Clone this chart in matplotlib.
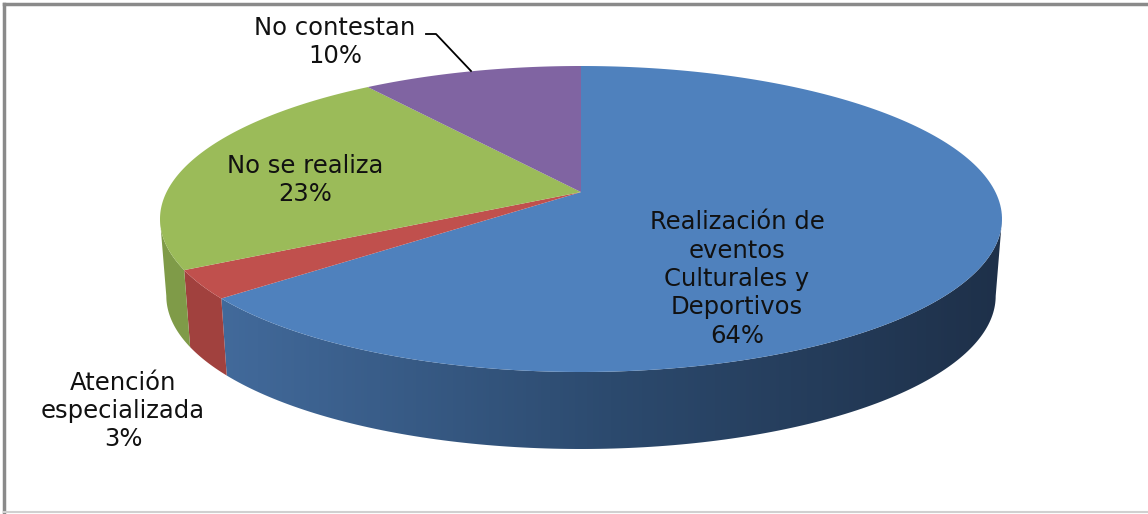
# 3D-style pie (Excel look) drawn with plain matplotlib patches
import numpy as np
import matplotlib
matplotlib.use("Agg")
import matplotlib.pyplot as plt
from matplotlib.patches import Polygon
from matplotlib.colors import LinearSegmentedColormap

labels = ["Realización de\neventos\nCulturales y\nDeportivos", "Atención\nespecializada",
          "No se realiza", "No contestan"]
values = [64, 3, 23, 10]
top_colors = ["#4f81bd", "#c0504d", "#9bbb59", "#8064a2"]
side_colors = [None, "#a1413e", "#7f9b48", "#65507f"]

plt.rcParams["font.family"] = ["DejaVu Sans"]

W, H, dpi = 1148, 514, 100
fig = plt.figure(figsize=(W / dpi, H / dpi), dpi=dpi)
ax = fig.add_axes([0, 0, 1, 1])
ax.set_xlim(0, W)
ax.set_ylim(H, 0)
ax.axis("off")

# geometry of the disc (pixels)
cx, cy, rx, ry = 581, 219, 421, 153
depth = 77
bot_scale = 0.985
k = 0.176  # perspective: how far the pie centre sits above the ellipse centre

# projective map of the unit circle onto the screen ellipse
xmax = 1 / np.sqrt(1 - k ** 2)
yc = -k / (1 - k ** 2)
ryi = 1 / (1 - k ** 2)


def proj(u, v, bottom=False):
    X = u / (1 + k * v) / xmax
    Y = (v / (1 + k * v) - yc) / ryi
    if bottom:
        return np.column_stack([cx + rx * bot_scale * X, cy - ry * Y + depth])
    return np.column_stack([cx + rx * X, cy - ry * Y])


def ell(t, bottom=False):
    t = np.radians(t)
    return proj(np.cos(t), np.sin(t), bottom)


vx, vy = proj(np.array([0.0]), np.array([0.0]))[0]

# slice angles, clockwise from 12 o'clock
frac = np.array(values) / sum(values)
starts = 90 - 360 * np.concatenate([[0], np.cumsum(frac)[:-1]])
ends = starts - 360 * frac

# visible front wall between the silhouette points
lo = -180 + np.degrees(np.arcsin(k))
hi = -np.degrees(np.arcsin(k))

for i in range(len(values)):
    a = max(ends[i], lo)
    b = min(starts[i], hi)
    if a >= b:
        continue
    t = np.linspace(b, a, 150)
    pts = np.vstack([ell(t), ell(t[::-1], bottom=True)])
    if i == 0:
        poly = Polygon(pts, closed=True, facecolor="none", edgecolor="none")
        ax.add_patch(poly)
        cmap = LinearSegmentedColormap.from_list("side", ["#426a9b", "#2c4a6e", "#1e3049"])
        grad = np.linspace(0, 1, 256).reshape(1, -1)
        x0, x1 = pts[:, 0].min(), pts[:, 0].max()
        im = ax.imshow(grad, cmap=cmap, aspect="auto",
                       extent=(x0, x1, pts[:, 1].max(), pts[:, 1].min()), zorder=1)
        im.set_clip_path(poly)
    else:
        ax.add_patch(Polygon(pts, closed=True, facecolor=side_colors[i],
                             edgecolor="none", zorder=1))

# top faces
for i in range(len(values)):
    t = np.linspace(starts[i], ends[i], 200)
    pts = np.vstack([[vx, vy], ell(t)])
    ax.add_patch(Polygon(pts, closed=True, facecolor=top_colors[i],
                         edgecolor="none", zorder=2))

# data labels
fs = 17.5
ls = 1.23
pct = [f"{v}%" for v in values]
ax.text(737, 279, f"{labels[0]}\n{pct[0]}", ha="center", va="center",
        fontsize=fs, linespacing=ls, color="#111111", zorder=3)
ax.text(123, 411, f"{labels[1]}\n{pct[1]}", ha="center", va="center",
        fontsize=fs, linespacing=ls, color="#111111", zorder=3)
ax.text(305, 180, f"{labels[2]}\n{pct[2]}", ha="center", va="center",
        fontsize=fs, linespacing=ls, color="#111111", zorder=3)
ax.text(335, 42, f"{labels[3]}\n{pct[3]}", ha="center", va="center",
        fontsize=fs, linespacing=ls, color="#111111", zorder=3)
ax.plot([426, 436, 471], [34, 34, 71], color="black", lw=1.3, zorder=3)

# chart border
ax.plot([4, 4], [4, 512], color="#8a8a8a", lw=2.5)
ax.plot([4, W], [4, 4], color="#8a8a8a", lw=2.5)
ax.plot([4, W], [512, 512], color="#d0d0d0", lw=1.5)

fig.savefig("out.png", dpi=dpi)
